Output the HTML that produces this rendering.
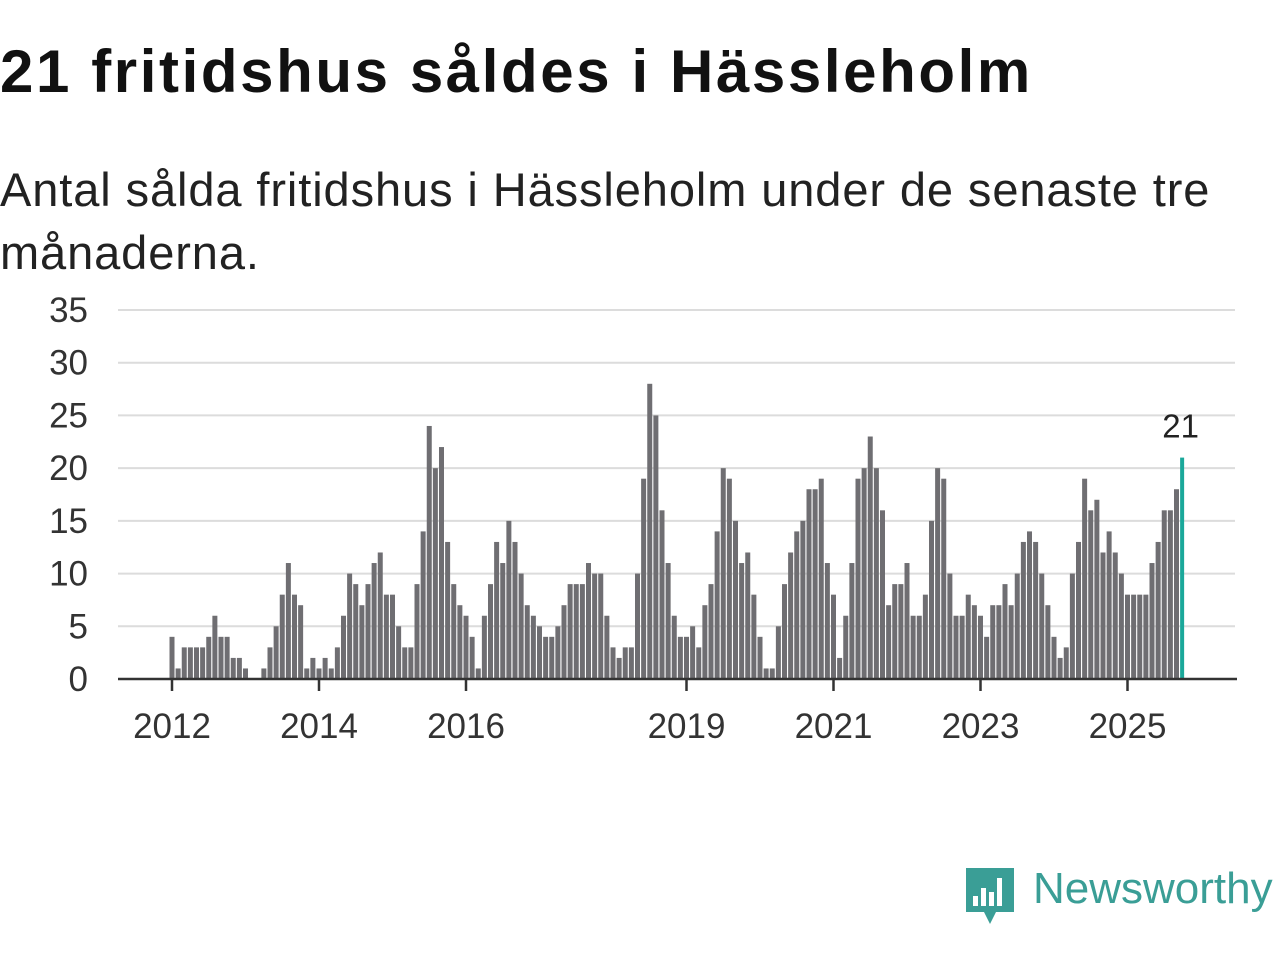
<!DOCTYPE html>
<html><head><meta charset="utf-8"><style>
body{margin:0;width:1280px;height:960px;background:#fff;font-family:"Liberation Sans",sans-serif;overflow:hidden;position:relative}
#title{position:absolute;left:0;top:37px;font-size:60px;font-weight:bold;color:#111;letter-spacing:2.6px;white-space:nowrap}
#sub{position:absolute;left:0;top:158px;font-size:47px;color:#222;line-height:63px;width:1240px;letter-spacing:0.9px}
#logo{position:absolute;left:1033px;top:864px;font-size:44px;color:#3a9e96;white-space:nowrap}
</style></head><body>
<div id="title">21 fritidshus såldes i Hässleholm</div>
<div id="sub">Antal sålda fritidshus i Hässleholm under de senaste tre månaderna.</div>
<svg id="chart" width="1280" height="960" style="position:absolute;left:0;top:0">
<g>
<path d="M966 868 h48 v44 h-18 l-6 12 l-6 -12 h-18 z" fill="#3a9e96"/>
<rect x="973" y="896" width="5" height="10" fill="#fff"/><rect x="981" y="888" width="5" height="18" fill="#fff"/><rect x="989" y="892" width="5" height="14" fill="#fff"/><rect x="997" y="878" width="5" height="28" fill="#fff"/>
</g>
</svg>
<div id="logo">Newsworthy</div>
<script>
const values=[4,1,3,3,3,3,4,6,4,4,2,2,
1,0,0,1,3,5,8,11,8,7,1,2,
1,2,1,3,6,10,9,7,9,11,12,8,
8,5,3,3,9,14,24,20,22,13,9,7,
6,4,1,6,9,13,11,15,13,10,7,6,
5,4,4,5,7,9,9,9,11,10,10,6,
3,2,3,3,10,19,28,25,16,11,6,4,
4,5,3,7,9,14,20,19,15,11,12,8,
4,1,1,5,9,12,14,15,18,18,19,11,
8,2,6,11,19,20,23,20,16,7,9,9,
11,6,6,8,15,20,19,10,6,6,8,7,
6,4,7,7,9,7,10,13,14,13,10,7,
4,2,3,10,13,19,16,17,12,14,12,10,
8,8,8,8,11,13,16,16,18,21];
const yTicks=[0,5,10,15,20,25,30,35];
const xTickLabels=["2012","2014","2016","2019","2021","2023","2025"];
const xTickIndex=[0,24,48,84,108,132,156];
const NS="http://www.w3.org/2000/svg";
const svg=document.getElementById('chart');
const x0=172,step=6.125,yBase=679,unit=(679-310)/35;
const X=i=>x0+i*step, Y=v=>yBase-v*unit;
function mk(t,a){const e=document.createElementNS(NS,t);for(const k in a)e.setAttribute(k,a[k]);svg.appendChild(e);return e;}
yTicks.forEach(v=>{
 if(v>0){const g=mk('line',{x1:118,x2:1235,y1:Y(v),y2:Y(v),stroke:'#dcdcdc','stroke-width':2});
 
 }
 const t=mk('text',{x:88,y:Y(v)+12,'text-anchor':'end','font-size':35,fill:'#333','font-family':'Liberation Sans, sans-serif'});
 t.textContent=v;
 
 
});
values.forEach((v,i)=>{
 const last=i===values.length-1;
 const r=mk('rect',{x:X(i)-2.5,y:Y(v),width:last?4:5,height:v*unit,fill:last?'#1aa89a':'#6f6e72'});
 
 
});
const li=values.length-1;
const lbl=mk('text',{x:X(li)-2,y:Y(values[li])-20,'text-anchor':'middle','font-size':33,fill:'#222','font-family':'Liberation Sans, sans-serif'});
lbl.textContent=values[li];


const ax=mk('line',{x1:118,x2:1237,y1:yBase,y2:yBase,stroke:'#333','stroke-width':2.5});


xTickIndex.forEach((idx,k)=>{
 const tk=mk('line',{x1:X(idx),x2:X(idx),y1:yBase,y2:yBase+12,stroke:'#333','stroke-width':2.5});
 
 
 const t=mk('text',{x:X(idx),y:738,'text-anchor':'middle','font-size':35,fill:'#333','font-family':'Liberation Sans, sans-serif'});
 t.textContent=xTickLabels[k];
 
 
});
</script>
</body></html>
